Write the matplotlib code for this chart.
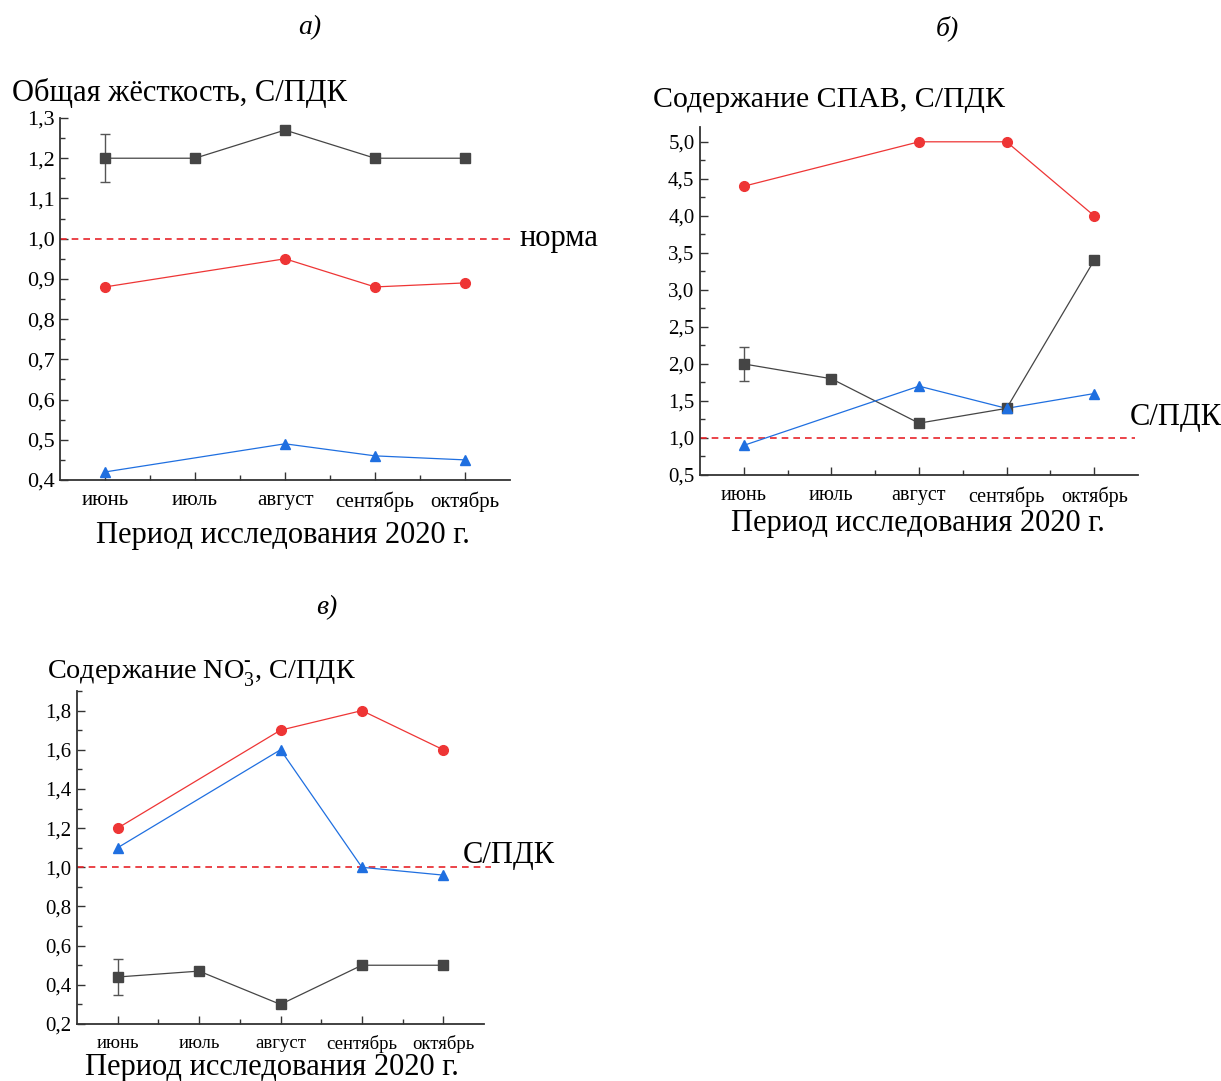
import numpy as np
import matplotlib
matplotlib.use("Agg")
import matplotlib.pyplot as plt
from matplotlib.ticker import FuncFormatter, MultipleLocator, FixedLocator

plt.rcParams['font.family'] = ['Liberation Serif', 'DejaVu Serif']
plt.rcParams['mathtext.fontset'] = 'custom'
plt.rcParams['mathtext.rm'] = 'Liberation Serif'

months = ["июнь", "июль", "август", "сентябрь", "октябрь"]

# Panel а) Общая жёсткость
a_black = [1.20, 1.20, 1.27, 1.20, 1.20]
a_black_err = [0.06, 0, 0, 0, 0]
a_red = [0.88, None, 0.95, 0.88, 0.89]
a_blue = [0.42, None, 0.49, 0.46, 0.45]

# Panel б) СПАВ
b_black = [2.0, 1.8, 1.2, 1.4, 3.4]
b_black_err = [0.23, 0, 0, 0, 0]
b_red = [4.4, None, 5.0, 5.0, 4.0]
b_blue = [0.9, None, 1.7, 1.4, 1.6]

# Panel в) NO3-
c_black = [0.44, 0.47, 0.30, 0.50, 0.50]
c_black_err = [0.09, 0, 0, 0, 0]
c_red = [1.2, None, 1.7, 1.8, 1.6]
c_blue = [1.1, None, 1.6, 1.0, 0.96]

norm_value = 1.0

W, H = 1221, 1081
fig = plt.figure(figsize=(W / 100, H / 100), dpi=100)

BLACK = '#454545'
RED = '#ee3535'
BLUE = '#1f6fe0'
DASH = '#e8242a'


def pax(left, right, top, bottom):
    return fig.add_axes([left / W, 1 - bottom / H, (right - left) / W, (bottom - top) / H])


def comma(v, pos):
    return f"{v:.1f}".replace('.', ',')


def draw(ax, black, berr, red, blue, ylim, major, minor, ytick_fs, xtick_fs):
    x = np.arange(1, 6)
    ax.plot(x, black, '-', color=BLACK, lw=0.9, zorder=3)
    ax.errorbar(x[:1], black[:1], yerr=berr[:1], fmt='none', ecolor='#555555',
                elinewidth=1.0, capsize=3.5, capthick=1.0, zorder=3)
    ax.plot(x, black, 's', color=BLACK, ms=6.5, zorder=4)
    for vals, col, mk in ((red, RED, 'o'), (blue, BLUE, '^')):
        xs = [xi for xi, v in zip(x, vals) if v is not None]
        ys = [v for v in vals if v is not None]
        ax.plot(xs, ys, '-', color=col, lw=0.9, zorder=3)
        ax.plot(xs, ys, mk, color=col, ms=7, zorder=4)
    ax.set_xlim(0.5, 5.5)
    ax.set_ylim(*ylim)
    ax.set_xticks(x)
    ax.set_xticklabels(months)
    ax.xaxis.set_minor_locator(FixedLocator([1.5, 2.5, 3.5, 4.5]))
    ax.yaxis.set_major_locator(MultipleLocator(major))
    ax.yaxis.set_minor_locator(MultipleLocator(minor))
    ax.yaxis.set_major_formatter(FuncFormatter(comma))
    ax.tick_params(axis='both', which='major', direction='in', length=6, width=1.0,
                   color='#333333', pad=4)
    ax.tick_params(axis='both', which='minor', direction='in', length=3.5, width=1.0,
                   color='#333333')
    ax.tick_params(axis='y', labelsize=ytick_fs)
    ax.tick_params(axis='x', labelsize=xtick_fs, pad=8)
    for s in ('top', 'right'):
        ax.spines[s].set_visible(False)
    for s in ('left', 'bottom'):
        ax.spines[s].set_linewidth(1.3)
        ax.spines[s].set_color('#333333')
    ax.patch.set_alpha(0)


# Panel a
axa = pax(60, 510, 118, 480)
draw(axa, a_black, a_black_err, a_red, a_blue, (0.4, 1.3), 0.1, 0.05, 16, 15)
axa.plot([0.5, 5.52], [norm_value, norm_value], '--', color=DASH, lw=1.2,
         dashes=(4, 3), clip_on=False, zorder=2)
axa.text(5.6, norm_value, "норма", fontsize=22, va='center', ha='left')
fig.text(12 / W, 1 - 93 / H, "Общая жёсткость, С/ПДК", fontsize=22, va='center', ha='left')
fig.text(283 / W, 1 - 535 / H, "Период исследования 2020 г.", fontsize=22, va='center', ha='center')
fig.text(310 / W, 1 - 28 / H, "а)", fontsize=20, style='italic', va='center', ha='center')

# Panel b
axb = pax(700, 1138, 127, 475)
draw(axb, b_black, b_black_err, b_red, b_blue, (0.5, 5.2), 0.5, 0.25, 15, 14.5)
axb.plot([0.5, 5.47], [norm_value, norm_value], '--', color=DASH, lw=1.2,
         dashes=(4, 3), clip_on=False, zorder=2)
fig.text(1130 / W, 1 - 417 / H, "С/ПДК", fontsize=22, va='center', ha='left')
fig.text(829 / W, 1 - 100 / H, "Содержание СПАВ, С/ПДК", fontsize=21.5, va='center', ha='center')
fig.text(918 / W, 1 - 523 / H, "Период исследования 2020 г.", fontsize=22, va='center', ha='center')
fig.text(947 / W, 1 - 28 / H, "б)", fontsize=20, style='italic', va='center', ha='center')

# Panel c
axc = pax(77, 484, 691, 1024)
draw(axc, c_black, c_black_err, c_red, c_blue, (0.2, 1.9), 0.2, 0.1, 15, 13.5)
axc.plot([0.5, 5.58], [norm_value, norm_value], '--', color=DASH, lw=1.2,
         dashes=(4, 3), clip_on=False, zorder=2)
fig.text(463 / W, 1 - 855 / H, "С/ПДК", fontsize=22, va='center', ha='left')
fig.text(47 / W, 1 - 673 / H, "Содержание NO$_{3}^{\\text{-}}$, С/ПДК", fontsize=20.3,
         va='center', ha='left')
fig.text(272 / W, 1 - 1068 / H, "Период исследования 2020 г.", fontsize=22, va='center', ha='center')
fig.text(327 / W, 1 - 608 / H, "в)", fontsize=20, style='italic', va='center', ha='center')

fig.savefig("out.png", dpi=100)
